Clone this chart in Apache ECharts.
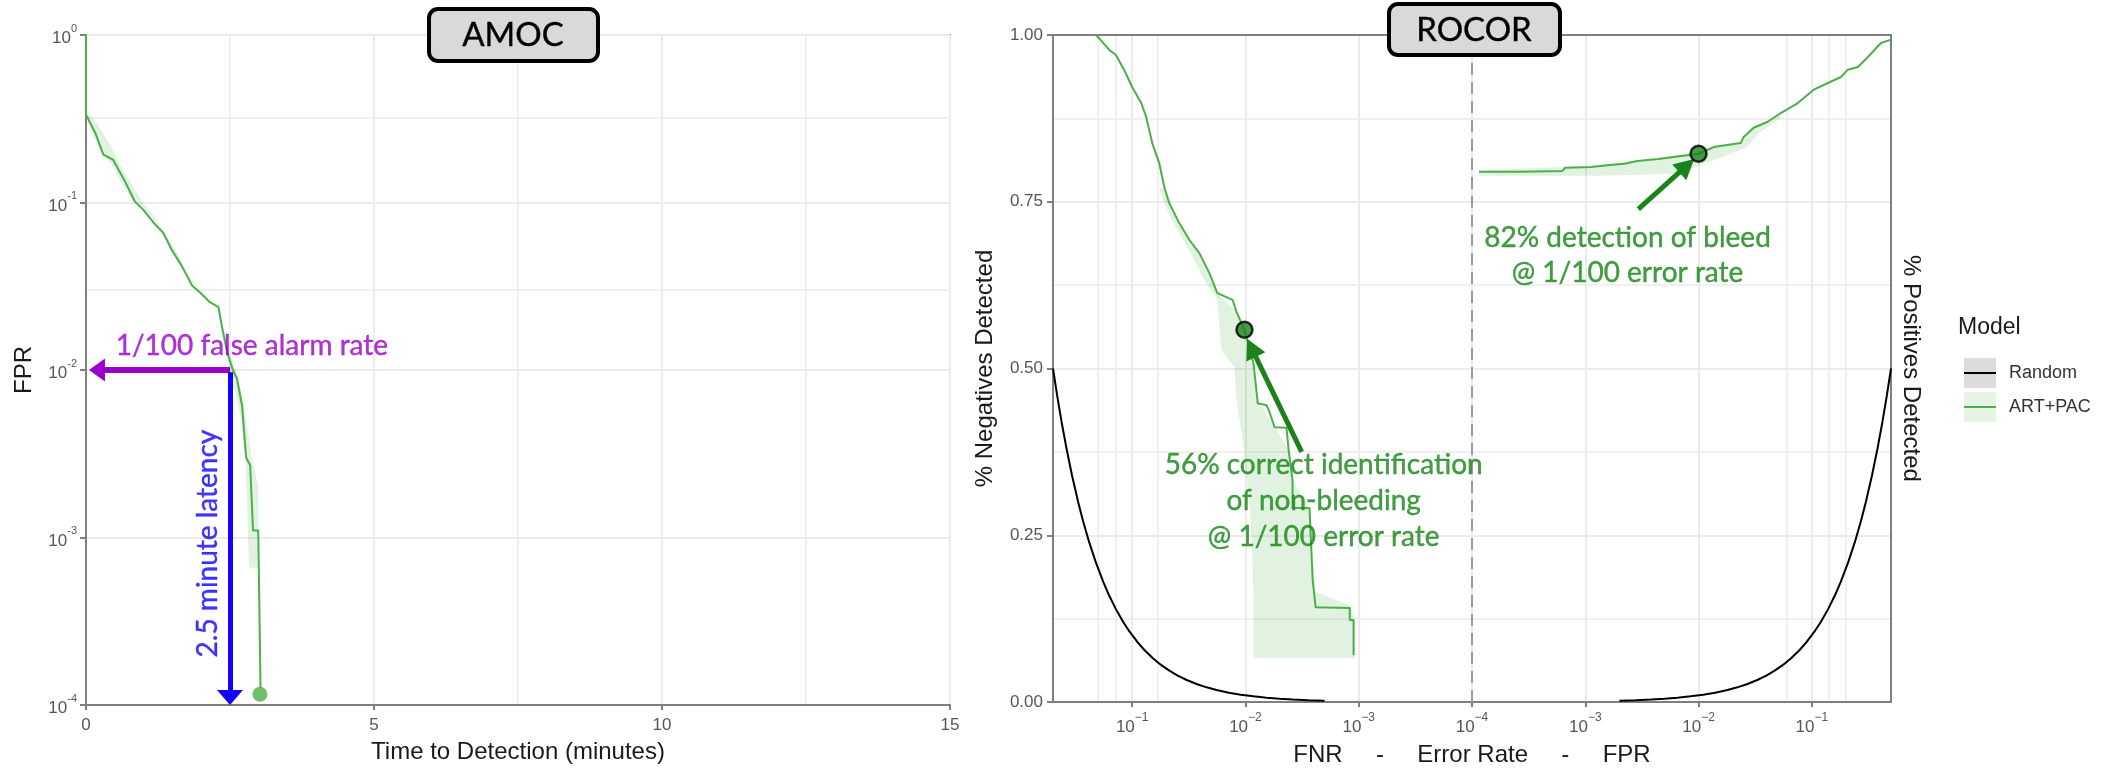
<!DOCTYPE html>
<html><head><meta charset="utf-8">
<script src="https://cdn.jsdelivr.net/npm/echarts@6.0.0/dist/echarts.min.js"></script>
<style>html,body{margin:0;padding:0;background:#fff}#c{width:2101px;height:769px}</style>
</head><body><div id="c"></div>
<script>
// ---------------- DATA ----------------
// AMOC panel: FPR vs time to detection (minutes)
const amocTime = [0, 0, 0.16, 0.30, 0.47, 0.68, 0.85, 0.99, 1.17, 1.34, 1.49, 1.66, 1.84, 1.98, 2.15, 2.30, 2.36, 2.45, 2.55, 2.62, 2.71, 2.78, 2.85, 2.90, 2.99, 3.00, 3.03];
const amocFPR  = [1, 0.334, 0.261, 0.193, 0.180, 0.133, 0.101, 0.091, 0.076, 0.066, 0.052, 0.042, 0.032, 0.029, 0.0254, 0.0237, 0.0182, 0.0128, 0.0100, 0.0089, 0.0061, 0.0030, 0.0027, 0.0011, 0.0011, 0.00066, 0.000126];
// confidence ribbon (outline: left edge then right edge reversed)
const amocBandTime = [0.00, 0.07, 0.24, 0.45, 0.63, 0.80, 0.99, 1.15, 1.32, 1.46, 1.63, 1.81, 1.98, 2.19, 2.29, 2.36, 2.43, 2.50, 2.60, 2.69, 2.74, 2.77, 2.80, 2.83,
                      3.00, 2.99, 2.88, 2.80, 2.73, 2.62, 2.48, 2.36, 2.31, 2.07, 1.89, 1.72, 1.55, 1.37, 1.20, 1.01, 0.80, 0.59, 0.42, 0.24, 0.07];
const amocBandFPR  = [0.334, 0.279, 0.207, 0.168, 0.128, 0.104, 0.0946, 0.0814, 0.0691, 0.0547, 0.0434, 0.0334, 0.0303, 0.0265, 0.0247, 0.0188, 0.0133, 0.00946, 0.00719, 0.00511, 0.00363, 0.0030, 0.0015, 0.00066,
                      0.00066, 0.0020, 0.0030, 0.0045, 0.00672, 0.00946, 0.0133, 0.0188, 0.0247, 0.0283, 0.0325, 0.0399, 0.0525, 0.0645, 0.0814, 0.0973, 0.128, 0.168, 0.221, 0.279, 0.334];
const amocEndPoint = [[3.02, 0.000116]];
const amocTimeTicks = [0, 5, 10, 15];

// ROCOR panel, left half: % negatives detected vs FNR
const rocFNR = [0.208, 0.160, 0.139, 0.118, 0.100, 0.0832, 0.0752, 0.0665, 0.0577, 0.0521, 0.0471, 0.0384, 0.0313, 0.0255, 0.0208, 0.0177, 0.0130, 0.0120, 0.0102, 0.0085, 0.00783, 0.00783, 0.00652, 0.00614, 0.00553, 0.00434, 0.00416, 0.00384, 0.00384, 0.00272, 0.00255, 0.00240, 0.00120, 0.00120, 0.00111, 0.00111];
const rocNeg = [1.000, 0.978, 0.970, 0.948, 0.922, 0.898, 0.877, 0.838, 0.808, 0.772, 0.748, 0.718, 0.693, 0.673, 0.643, 0.613, 0.603, 0.585, 0.558, 0.508, 0.453, 0.448, 0.445, 0.435, 0.412, 0.411, 0.378, 0.333, 0.291, 0.291, 0.183, 0.142, 0.141, 0.123, 0.123, 0.070];
const rocNegBandFNR = [0.0577, 0.0471, 0.0384, 0.0282, 0.0240, 0.0177, 0.0163, 0.0125, 0.0120, 0.0106, 0.00923, 0.00867, 0.0085, 0.0085, 0.00108, 0.00108, 0.00120, 0.00240, 0.00255, 0.00272, 0.00384, 0.00416, 0.00553, 0.00783, 0.0085, 0.0102, 0.0120, 0.0177, 0.0255, 0.0384, 0.0521];
const rocNegBandVal = [0.768, 0.730, 0.703, 0.663, 0.637, 0.603, 0.528, 0.502, 0.453, 0.393, 0.303, 0.213, 0.153, 0.066, 0.066, 0.123, 0.145, 0.165, 0.213, 0.291, 0.333, 0.378, 0.412, 0.453, 0.508, 0.558, 0.585, 0.613, 0.673, 0.718, 0.772];
const rocNegPoint = [[0.0102, 0.558]];

// ROCOR panel, right half: % positives detected vs FPR
const rocFPR = [0.000115, 0.000266, 0.000625, 0.000665, 0.00113, 0.00166, 0.00221, 0.00288, 0.00443, 0.00736, 0.0100, 0.0136, 0.0236, 0.0250, 0.0307, 0.0408, 0.0532, 0.0752, 0.104, 0.139, 0.181, 0.208, 0.255, 0.313, 0.408, 0.50];
const rocPos = [0.795, 0.795, 0.796, 0.801, 0.802, 0.805, 0.807, 0.811, 0.814, 0.819, 0.822, 0.832, 0.838, 0.847, 0.861, 0.870, 0.883, 0.898, 0.918, 0.928, 0.937, 0.948, 0.952, 0.967, 0.988, 0.993];
const rocPosBandFPR = [0.000115, 0.00136, 0.00693, 0.0104, 0.0157, 0.0261, 0.0354, 0.0532, 0.0532, 0.0408, 0.0307, 0.0250, 0.0236, 0.0136, 0.0100, 0.00443, 0.00113, 0.000115];
const rocPosBandVal = [0.789, 0.789, 0.792, 0.805, 0.816, 0.831, 0.855, 0.876, 0.883, 0.870, 0.861, 0.847, 0.840, 0.834, 0.826, 0.816, 0.804, 0.797];
const rocPosPoint = [[0.0100, 0.822]];

// Random model reference curves (detected share equals the error rate)
const randFNR = [0.5, 0.46, 0.42, 0.38, 0.34, 0.30, 0.27, 0.24, 0.21, 0.18, 0.16, 0.14, 0.12, 0.105, 0.09, 0.078, 0.066, 0.056, 0.047, 0.04, 0.033, 0.027, 0.022, 0.018, 0.014, 0.011, 0.0085, 0.0065, 0.005, 0.0038, 0.0028, 0.002];
const randNeg = [0.5, 0.46, 0.42, 0.38, 0.34, 0.30, 0.27, 0.24, 0.21, 0.18, 0.16, 0.14, 0.12, 0.105, 0.09, 0.078, 0.066, 0.056, 0.047, 0.04, 0.033, 0.027, 0.022, 0.018, 0.014, 0.011, 0.0085, 0.0065, 0.005, 0.0038, 0.0028, 0.002];
const randFPR = [0.002, 0.0028, 0.0038, 0.005, 0.0065, 0.0085, 0.011, 0.014, 0.018, 0.022, 0.027, 0.033, 0.04, 0.047, 0.056, 0.066, 0.078, 0.09, 0.105, 0.12, 0.14, 0.16, 0.18, 0.21, 0.24, 0.27, 0.30, 0.34, 0.38, 0.42, 0.46, 0.5];
const randPos = [0.002, 0.0028, 0.0038, 0.005, 0.0065, 0.0085, 0.011, 0.014, 0.018, 0.022, 0.027, 0.033, 0.04, 0.047, 0.056, 0.066, 0.078, 0.09, 0.105, 0.12, 0.14, 0.16, 0.18, 0.21, 0.24, 0.27, 0.30, 0.34, 0.38, 0.42, 0.46, 0.5];

// axis tick / grid values
const amocFprMinorGrid = [0.316, 0.0316, 0.00316, 0.000316];
const rocMinorGrid = [0.196, 0.144, 0.0565, 0.00565, 0.00051];
const rocYTicks = [0, 0.25, 0.5, 0.75, 1];
const rocCentreX = [0.0001, 0.0001];   // dashed divider (error rate 10^-4)
const rocCentreY = [0, 1];
const legendNames = ['Random', 'ART+PAC'];

// ---------------- CHART ----------------
const GREEN = '#4daf4a';
const DKGREEN = '#1b831b';
const TXTGREEN = '#158515';
const AX = '#7f7f7f';
const GRIDC = '#ebebeb';
const TICKC = '#555';
const SANS = 'Liberation Sans';
const ANNO = 'Lato';

const pts = (xs, ys) => xs.map((x, i) => [x, ys[i]]);

function band(name, xi, yi, xs, ys) {
  const p = pts(xs, ys);
  return {
    name, type: 'custom', xAxisIndex: xi, yAxisIndex: yi, silent: true, z: 1,
    data: [p[0]],
    renderItem: (params, api) => ({
      type: 'polygon',
      shape: { points: p.map(q => api.coord(q)) },
      style: { fill: 'rgba(77,175,74,0.17)' }
    })
  };
}
function minorGrid(xi, yi, key, vals) {
  return {
    type: 'line', xAxisIndex: xi, yAxisIndex: yi, data: [], silent: true, z: 0,
    markLine: {
      z: 0, silent: true, animation: false, symbol: ['none', 'none'], label: { show: false },
      lineStyle: { color: GRIDC, width: 1.5, type: 'solid' },
      data: vals.map(v => ({ [key]: v }))
    }
  };
}
function arrow(from, to, color, width, size) {
  return [
    { coord: from, symbol: 'none', lineStyle: { color, width, type: 'solid' } },
    { coord: to, symbol: 'triangle', symbolSize: size, lineStyle: { color, width, type: 'solid' } }
  ];
}
function textPoint(xi, yi, value, text, color, extra) {
  return {
    type: 'scatter', xAxisIndex: xi, yAxisIndex: yi, symbolSize: 0, silent: true, z: 6,
    data: [{ value }],
    label: Object.assign({ show: true, position: 'inside', formatter: text, color, fontSize: 28, fontFamily: ANNO, lineHeight: 36, align: 'center',
      textBorderColor: color, textBorderWidth: 0.4 }, extra || {})
  };
}
const supRich = (bsz, ssz) => ({
  b: { fontSize: bsz, color: TICKC, fontFamily: SANS, lineHeight: 24, verticalAlign: 'bottom' },
  s: { fontSize: ssz, color: TICKC, fontFamily: SANS, lineHeight: 12, verticalAlign: 'top' }
});
const isPow10 = v => Math.abs(Math.log10(v) - Math.round(Math.log10(v))) < 1e-6;

const option = {
  animation: false,
  backgroundColor: '#fff',
  grid: [
    { left: 86, top: 35, width: 864, height: 672, show: true, borderColor: AX, borderWidth: 2 },
    { left: 1053, top: 35, width: 419, height: 667 },
    { left: 1472, top: 35, width: 419, height: 667 }
  ],
  xAxis: [
    { gridIndex: 0, type: 'value', min: amocTimeTicks[0], max: amocTimeTicks[amocTimeTicks.length - 1], interval: 5,
      axisLine: { show: true, lineStyle: { color: AX, width: 2 } },
      axisTick: { show: true, length: 5, lineStyle: { color: AX, width: 2 } },
      axisLabel: { margin: 12, fontSize: 17, color: TICKC, fontFamily: SANS },
      splitLine: { show: true, lineStyle: { color: GRIDC, width: 2 } },
      minorTick: { show: false, splitNumber: 2 },
      minorSplitLine: { show: true, lineStyle: { color: GRIDC, width: 1.5 } },
      name: 'Time to Detection (minutes)', nameLocation: 'middle', nameGap: 35,
      nameTextStyle: { fontSize: 24, color: '#1a1a1a', fontFamily: SANS } },
    { gridIndex: 1, type: 'log', logBase: 10, min: 1e-4, max: 0.5, inverse: true,
      axisLine: { show: true, onZero: false, lineStyle: { color: AX, width: 2 } },
      axisTick: { show: true, length: 5, lineStyle: { color: AX, width: 2 } },
      axisLabel: { margin: 10, showMaxLabel: false,
        formatter: v => isPow10(v) ? '{b|10}{s|\u2212' + (-Math.round(Math.log10(v))) + '}' : '',
        rich: supRich(17, 12) },
      splitLine: { show: true, lineStyle: { color: GRIDC, width: 2 } } },
    { gridIndex: 2, type: 'log', logBase: 10, min: 1e-4, max: 0.5,
      axisLine: { show: true, onZero: false, lineStyle: { color: AX, width: 2 } },
      axisTick: { show: true, length: 5, lineStyle: { color: AX, width: 2 } },
      axisLabel: { margin: 10, showMinLabel: false, showMaxLabel: false,
        formatter: v => (isPow10(v) && v > 1.5e-4) ? '{b|10}{s|\u2212' + (-Math.round(Math.log10(v))) + '}' : '',
        rich: supRich(17, 12) },
      splitLine: { show: true, lineStyle: { color: GRIDC, width: 2 } } },
    { gridIndex: 1, type: 'value', position: 'top', min: 0, max: 1,
      axisLine: { show: true, onZero: false, lineStyle: { color: AX, width: 2 } },
      axisTick: { show: false }, axisLabel: { show: false }, splitLine: { show: false } },
    { gridIndex: 2, type: 'value', position: 'top', min: 0, max: 1,
      axisLine: { show: true, onZero: false, lineStyle: { color: AX, width: 2 } },
      axisTick: { show: false }, axisLabel: { show: false }, splitLine: { show: false } }
  ],
  yAxis: [
    { gridIndex: 0, type: 'log', logBase: 10, min: 1e-4, max: 1,
      axisLine: { show: true, lineStyle: { color: AX, width: 2 } },
      axisTick: { show: true, length: 6, lineStyle: { color: AX, width: 2 } },
      axisLabel: { margin: 9, formatter: v => '{b|10}{s|' + Math.round(Math.log10(v)) + '}', rich: supRich(17, 11) },
      splitLine: { show: true, lineStyle: { color: GRIDC, width: 2 } },
      name: 'FPR', nameLocation: 'middle', nameRotate: 90, nameGap: 50,
      nameTextStyle: { fontSize: 24, color: '#1a1a1a', fontFamily: SANS } },
    { gridIndex: 1, type: 'value', min: rocYTicks[0], max: rocYTicks[4], interval: 0.25,
      axisLine: { show: true, onZero: false, lineStyle: { color: AX, width: 2 } },
      axisTick: { show: true, length: 6, lineStyle: { color: AX, width: 2 } },
      axisLabel: { margin: 10, fontSize: 17, color: TICKC, fontFamily: SANS, formatter: v => v.toFixed(2) },
      splitLine: { show: true, lineStyle: { color: GRIDC, width: 2 } },
      minorTick: { show: false, splitNumber: 2 },
      minorSplitLine: { show: true, lineStyle: { color: GRIDC, width: 1.5 } },
      name: '% Negatives Detected', nameLocation: 'middle', nameRotate: 90, nameGap: 56,
      nameTextStyle: { fontSize: 24, color: '#1a1a1a', fontFamily: SANS } },
    { gridIndex: 2, type: 'value', position: 'right', min: rocYTicks[0], max: rocYTicks[4], interval: 0.25,
      axisLine: { show: true, onZero: false, lineStyle: { color: AX, width: 2 } },
      axisTick: { show: false }, axisLabel: { show: false },
      splitLine: { show: true, lineStyle: { color: GRIDC, width: 2 } },
      minorTick: { show: false, splitNumber: 2 },
      minorSplitLine: { show: true, lineStyle: { color: GRIDC, width: 1.5 } },
      name: '% Positives Detected', nameLocation: 'middle', nameRotate: -90, nameGap: 8,
      nameTextStyle: { fontSize: 24, color: '#1a1a1a', fontFamily: SANS } }
  ],
  legend: [
    { orient: 'vertical', left: 1959, top: 353, itemWidth: 32, itemHeight: 30, itemGap: 4, selectedMode: false, z: 3,
      icon: 'rect',
      data: [ { name: legendNames[0], itemStyle: { color: '#dcdcdc' } }, { name: legendNames[1], itemStyle: { color: '#e6f3e5' } } ],
      textStyle: { color: 'rgba(0,0,0,0)', fontSize: 18, lineHeight: 20, fontFamily: SANS } },
    { orient: 'vertical', left: 1959, top: 358, itemWidth: 32, itemHeight: 2, itemGap: 14, selectedMode: false, z: 4,
      icon: 'rect', data: legendNames,
      textStyle: { color: '#333', fontSize: 18, lineHeight: 20, fontFamily: SANS, padding: [0, 0, 0, 8] } }
  ],
  graphic: [
    { type: 'rect', z: 100, shape: { x: 429, y: 9, width: 169, height: 52, r: 9 }, style: { fill: '#d9d9d9', stroke: '#000', lineWidth: 4 } },
    { type: 'text', z: 101, x: 513, y: 35, style: { text: 'AMOC', fontSize: 33, fontFamily: ANNO, fill: '#000', stroke: '#000', lineWidth: 0.4, align: 'center', verticalAlign: 'middle' } },
    { type: 'rect', z: 100, shape: { x: 1389, y: 4, width: 171, height: 51, r: 9 }, style: { fill: '#d9d9d9', stroke: '#000', lineWidth: 4 } },
    { type: 'text', z: 101, x: 1474, y: 30, style: { text: 'ROCOR', fontSize: 33, fontFamily: ANNO, fill: '#000', stroke: '#000', lineWidth: 0.4, align: 'center', verticalAlign: 'middle' } },
    { type: 'text', z: 101, x: 1472, y: 755, style: { text: 'FNR     -     Error Rate     -     FPR', fontSize: 24, fontFamily: SANS, fill: '#1a1a1a', align: 'center', verticalAlign: 'middle' } },
    { type: 'text', z: 101, x: 1958, y: 328, style: { text: 'Model', fontSize: 23, fontFamily: SANS, fill: '#1a1a1a', align: 'left', verticalAlign: 'middle' } }
  ],
  series: [
    // ---- AMOC ----
    minorGrid(0, 0, 'yAxis', amocFprMinorGrid),
    band('AMOC band', 0, 0, amocBandTime, amocBandFPR),
    { name: 'ART+PAC (AMOC)', type: 'line', xAxisIndex: 0, yAxisIndex: 0, data: pts(amocTime, amocFPR),
      symbol: 'none', color: GREEN, lineStyle: { color: GREEN, width: 2 }, z: 3, clip: false,
      markLine: { silent: true, animation: false, label: { show: false }, symbol: ['none', 'triangle'],
        data: [ arrow([2.5, 0.01], [0.19, 0.01], '#9900cc', 6, [23, 16]),
                arrow([2.5, 0.0097], [2.5, 0.000111], '#1400ff', 5, [26, 15]) ] } },
    { type: 'scatter', xAxisIndex: 0, yAxisIndex: 0, data: amocEndPoint, symbolSize: 15, itemStyle: { color: GREEN }, z: 4, silent: true },
    textPoint(0, 0, [2.88, 0.0139], '1/100 false alarm rate', '#9900cc'),
    textPoint(0, 0, [2.12, 0.00092], '2.5 minute latency', '#1400ff', { rotate: 90 }),
    // ---- ROCOR left (FNR) ----
    minorGrid(1, 1, 'xAxis', rocMinorGrid),
    band('ROCOR neg band', 1, 1, rocNegBandFNR, rocNegBandVal),
    { name: 'Random', type: 'line', xAxisIndex: 1, yAxisIndex: 1, data: pts(randFNR, randNeg),
      symbol: 'none', color: '#000', lineStyle: { color: '#000', width: 2 }, z: 3 },
    { name: 'ART+PAC', type: 'line', xAxisIndex: 1, yAxisIndex: 1, data: pts(rocFNR, rocNeg),
      symbol: 'none', color: GREEN, lineStyle: { color: GREEN, width: 2 }, z: 3, clip: false,
      markLine: { silent: true, animation: false, label: { show: false }, symbol: ['none', 'triangle'],
        data: [ arrow([0.00319, 0.375], [0.00885, 0.531], DKGREEN, 5, [21, 20]) ] } },
    { type: 'scatter', xAxisIndex: 1, yAxisIndex: 1, data: rocNegPoint, symbolSize: 16, z: 5, silent: true,
      itemStyle: { color: DKGREEN, borderColor: '#000', borderWidth: 2.5 } },
    textPoint(1, 1, [0.00204, 0.301], '56% correct identification\nof non-bleeding\n@ 1/100 error rate', TXTGREEN),
    // ---- ROCOR right (FPR) ----
    minorGrid(2, 2, 'xAxis', rocMinorGrid),
    { name: 'divider', type: 'line', xAxisIndex: 2, yAxisIndex: 2, data: pts(rocCentreX, rocCentreY), silent: true, z: 2, clip: false,
      symbol: 'none', lineStyle: { color: '#9a9a9a', width: 2, type: [12, 7] } },
    band('ROCOR pos band', 2, 2, rocPosBandFPR, rocPosBandVal),
    { name: 'Random', type: 'line', xAxisIndex: 2, yAxisIndex: 2, data: pts(randFPR, randPos),
      symbol: 'none', color: '#000', lineStyle: { color: '#000', width: 2 }, z: 3 },
    { name: 'ART+PAC', type: 'line', xAxisIndex: 2, yAxisIndex: 2, data: pts(rocFPR, rocPos),
      symbol: 'none', color: GREEN, lineStyle: { color: GREEN, width: 2 }, z: 3, clip: false,
      markLine: { silent: true, animation: false, label: { show: false }, symbol: ['none', 'triangle'],
        data: [ arrow([0.00294, 0.739], [0.00787, 0.804], DKGREEN, 5, [21, 20]) ] } },
    { type: 'scatter', xAxisIndex: 2, yAxisIndex: 2, data: rocPosPoint, symbolSize: 16, z: 5, silent: true,
      itemStyle: { color: DKGREEN, borderColor: '#000', borderWidth: 2.5 } },
    textPoint(2, 2, [0.00236, 0.670], '82% detection of bleed\n@ 1/100 error rate', TXTGREEN, { lineHeight: 35 })
  ]
};

const chart = echarts.init(document.getElementById('c'), null, { renderer: 'canvas', width: 2101, height: 769 });
chart.setOption(option);
</script>
</body></html>
